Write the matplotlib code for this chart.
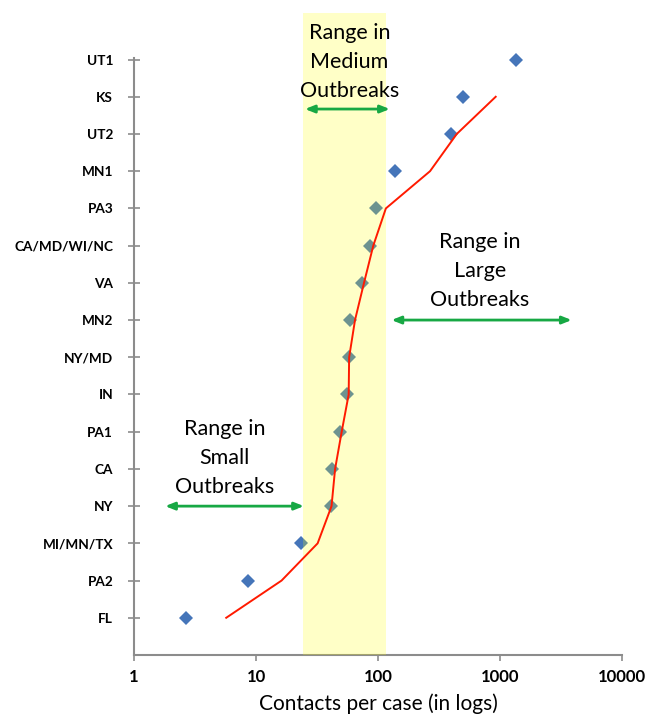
import matplotlib
matplotlib.use("Agg")
import matplotlib.pyplot as plt
import numpy as np

plt.rcParams['font.family'] = ['Lato', 'DejaVu Sans']

categories = ["FL", "PA2", "MI/MN/TX", "NY", "CA", "PA1", "IN", "NY/MD", "MN2",
              "VA", "CA/MD/WI/NC", "PA3", "MN1", "UT2", "KS", "UT1"]
contacts = [2.67, 8.6, 23.3, 41.2, 42.2, 48.8, 56, 57.5, 59, 73.5, 86, 96, 138, 394, 500, 1352]
trend = [5.7, 16.2, 32, 41.6, 44.5, 50.4, 57.5, 58, 64.8, 76.8, 91.5, 116, 267, 442, 922]
medium_range = (24.5, 116)
xticks = [1, 10, 100, 1000, 10000]
xticklabels = ["1", "10", "100", "1000", "10000"]

W, H = 658, 714
fig = plt.figure(figsize=(W / 100, H / 100), dpi=100)
ax = fig.add_axes([134 / W, (H - 655) / H, (622 - 134) / W, 655 / H])

ypos = np.arange(1, len(categories) + 1)
ax.set_xscale('log')
ax.set_xlim(1, 10000)
ax.set_ylim(0, 17.6)

blue = '#4575B9'
ax.plot(contacts, ypos, linestyle='none', marker='D', ms=7.6, color=blue,
        markeredgewidth=0, zorder=2, clip_on=False)
ax.fill_between(medium_range, 0, 17.25, color='#FFFF00', alpha=0.22,
                linewidth=0, zorder=3, clip_on=False)
ax.plot(trend, ypos[:len(trend)], color='#FF1A00', lw=1.4, zorder=4)

ax.set_yticks(ypos)
ax.set_yticklabels(categories, fontsize=9.8, fontweight='bold')
ax.set_xticks(xticks)
ax.set_xticklabels(xticklabels, fontsize=12, fontweight='bold')
ax.minorticks_off()
ax.tick_params(axis='y', direction='inout', length=8, width=1.2, color='#8C8C8C', pad=11)
ax.tick_params(axis='x', direction='out', length=4, width=1.2, color='#8C8C8C', pad=6)

for s in ['top', 'right']:
    ax.spines[s].set_visible(False)
for s in ['left', 'bottom']:
    ax.spines[s].set_color('#8C8C8C')
    ax.spines[s].set_linewidth(1.5)
ax.spines['left'].set_bounds(0, 16.05)

ax.set_xlabel("Contacts per case (in logs)", fontsize=15, labelpad=6)

green = '#17A844'
txt_kw = dict(ha='center', va='center', fontsize=15.5, linespacing=1.55, zorder=5)
ax.text(10 ** ((349.5 - 134) / 122), 15.93, "Range in\nMedium\nOutbreaks", **txt_kw)
ax.text(10 ** ((480 - 134) / 122), 10.32, "Range in\nLarge\nOutbreaks", **txt_kw)
ax.text(10 ** ((224.7 - 134) / 122), 5.30, "Range in\nSmall\nOutbreaks", **txt_kw)

arrow_kw = dict(arrowstyle='<|-|>,head_length=0.55,head_width=0.22', color=green, lw=2.0,
                shrinkA=0, shrinkB=0)
for x0, x1, y in [(25.2, 125, 14.67), (129, 3870, 9.0), (1.8, 24.7, 4.0)]:
    ax.annotate('', xy=(x1, y), xytext=(x0, y), arrowprops=dict(**arrow_kw), zorder=5)

fig.savefig('out.png', dpi=100)
